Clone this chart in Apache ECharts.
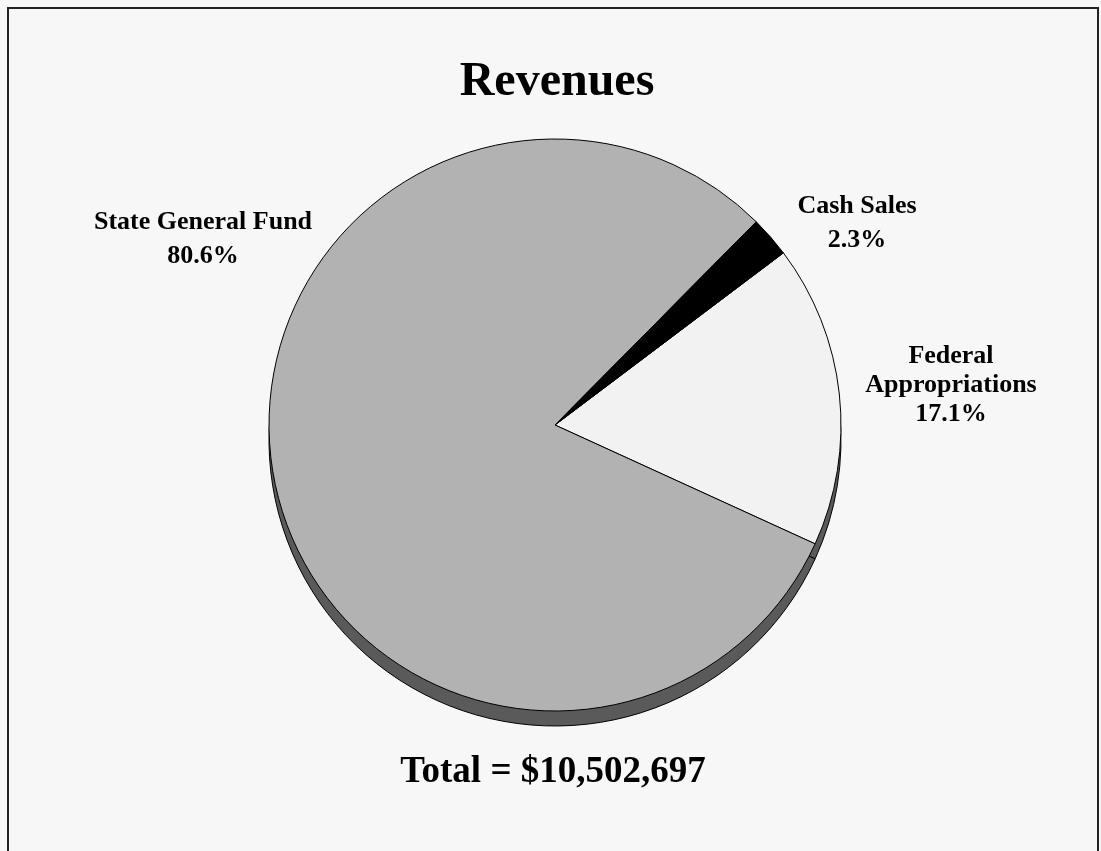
<!DOCTYPE html>
<html>
<head>
<meta charset="utf-8">
<script src="https://cdn.jsdelivr.net/npm/echarts@6/dist/echarts.min.js"></script>
<style>
  html, body { margin: 0; padding: 0; background: #f7f7f7; }
  #chart { width: 1101px; height: 851px; }
</style>
</head>
<body>
<div id="chart"></div>
<script>
// revenue shares, listed clockwise starting at the upper edge of Federal
const categories = ["Federal\nAppropriations", "State General Fund", "Cash Sales"];
const shares = [17.1, 80.6, 2.3];
const sliceColors = ["#f2f2f2", "#b2b2b2", "#000000"];
const chartTitle = "Revenues";
const totalText = "Total = $10,502,697";

const serif = "'Liberation Serif', 'DejaVu Serif', serif";
const chartElement = document.getElementById("chart");
const chart = echarts.init(chartElement);

// where each slice's label block sits (centre of the text)
const labelSpots = [
  { x: 951, y: 385, lineHeight: 29 },
  { x: 203, y: 239, lineHeight: 34 },
  { x: 857, y: 223, lineHeight: 34 },
];

const pieData = categories.map((name, i) => ({
  name: name,
  value: shares[i],
  itemStyle: { color: sliceColors[i] },
  label: { lineHeight: labelSpots[i].lineHeight },
}));

chart.setOption({
  backgroundColor: "#f7f7f7",
  animation: false,
  title: [
    {
      text: chartTitle,
      left: 552,
      textAlign: "center",
      top: 54,
      textStyle: { fontFamily: serif, fontSize: 48, fontWeight: "bold", color: "#000" },
    },
    {
      text: totalText,
      left: 548,
      textAlign: "center",
      top: 749,
      textStyle: { fontFamily: serif, fontSize: 37, fontWeight: "bold", color: "#000" },
    },
  ],
  graphic: [
    {
      type: "rect",
      shape: { x: 8, y: 8, width: 1090, height: 860 },
      style: { fill: null, stroke: "#222", lineWidth: 2 },
      silent: true,
    },
  ],
  series: [
    {
      // extruded edge under the pie
      type: "pie",
      silent: true,
      z: 1,
      center: [555, 440],
      radius: [0, 286],
      startAngle: 37,
      clockwise: true,
      label: { show: false },
      labelLine: { show: false },
      itemStyle: { color: "#5a5a5a", borderColor: "#000", borderWidth: 1 },
      data: shares.map((v) => ({ value: v })),
    },
    {
      type: "pie",
      z: 2,
      center: [555, 425],
      radius: [0, 286],
      startAngle: 37,
      clockwise: true,
      itemStyle: { borderColor: "#000", borderWidth: 1 },
      label: {
        show: true,
        position: "outside",
        overflow: "none",
        formatter: (p) => `${p.name}\n${p.value.toFixed(1)}%`,
        fontFamily: serif,
        fontSize: 26,
        fontWeight: "bold",
        color: "#000",
        align: "center",
      },
      labelLine: { show: false },
      labelLayout: (params) => {
        const spot = labelSpots[params.dataIndex];
        return { x: spot.x, y: spot.y, align: "center", verticalAlign: "middle" };
      },
      emphasis: { disabled: true },
      data: pieData,
    },
  ],
});

window.addEventListener("resize", () => chart.resize());
</script>
</body>
</html>
